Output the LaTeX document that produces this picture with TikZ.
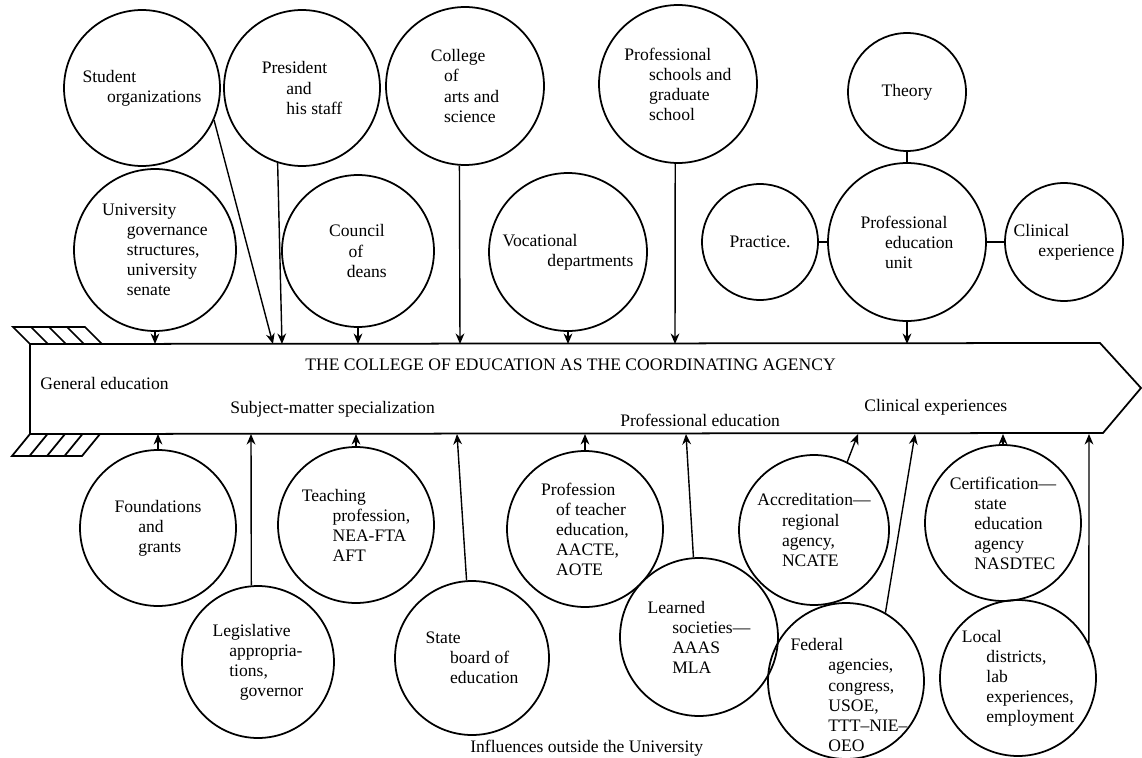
\documentclass[tikz,border=0pt]{standalone}
\usepackage{fontspec}
\setmainfont{Liberation Serif}
\usepackage{tikz}
\usetikzlibrary{arrows.meta}
\newcommand{\nudge}[1][1.4em]{\hspace*{#1}}

\begin{document}
\begin{tikzpicture}[x=0.02cm,y=-0.02cm]
\tikzset{agency/.style={circle,draw,line width=1pt,inner sep=0pt,minimum size=#1,align=left,font=\fontsize{10}{11.4}\selectfont}}
\tikzset{agency/.default=3.12cm}
\tikzset{feed/.style={line width=0.8pt,-{Stealth[length=6pt,width=5pt]}}}
\tikzset{tie/.style={line width=0.9pt}}
\tikzset{band/.style={font=\fontsize{10}{11.4}\selectfont,anchor=west,inner sep=0pt}}
\useasboundingbox (0,0) rectangle (1142,757);

% the arrow
\coordinate (tl) at (30,344);
\coordinate (tr) at (1100,343);
\coordinate (tip) at (1141,388);
\coordinate (br) at (1103,433);
\coordinate (bl) at (30,434);
\draw[line width=1pt] (tl) -- (tr) -- (tip) -- (br) -- (bl) -- cycle;
\draw[line width=1pt] (tl) -- (13,327) -- (85,327) -- (102,344);
\foreach \i in {1,2,3} \draw[line width=1pt] (13+18*\i,327) -- (30+18*\i,344);
\draw[line width=1pt] (bl) -- (12,456) -- (82,456) -- (100,434);
\foreach \i in {1,2,3} \draw[line width=1pt] (12+17.5*\i,456) -- (30+17.5*\i,434);

\node[band] (title) at (305,365) {THE COLLEGE OF EDUCATION AS THE COORDINATING AGENCY};
\node[band] (gened) at (40,383) {General education};
\node[band] (subj) at (230,409) {Subject-matter specialization};
\node[band] (profed) at (620,420) {Professional education};
\node[band] (clinexp) at (864,407) {Clinical experiences};
\node[band] (outside) at (470,748) {Influences outside the University};

% inside the University
\node[agency] (stud) at (142,88) {Student\\\nudge organizations};
\node[agency] (pres) at (302,88) {President\\\nudge and\\\nudge his staff};
\node[agency=3.16cm] (coll) at (465,86) {College\\\nudge[0.5em] of\\\nudge[0.5em] arts and\\\nudge[0.5em] science};
\node[agency=3.16cm] (prof) at (678,84) {Professional\\\nudge schools and\\\nudge graduate\\\nudge school};
\node[agency=2.36cm] (theory) at (907,92) {Theory};
\node[agency=3.24cm] (ugov) at (155,250) {University\\\nudge governance\\\nudge structures,\\\nudge university\\\nudge senate};
\node[agency=3.04cm] (council) at (358,251) {Council\\\nudge[0.85em] of\\\nudge[0.75em] deans};
\node[agency=3.16cm] (voc) at (568,252) {Vocational\\\nudge[2.3em] departments};
\node[agency=2.32cm] (practice) at (760,242) {Practice.};
\node[agency=3.16cm] (peu) at (907,242) {Professional\\\nudge education\\\nudge unit};
\node[agency=2.36cm] (clin) at (1064,242) {Clinical\\\nudge experience};

% outside the University
\node[agency] (found) at (158,528) {Foundations\\\nudge[1.1em] and\\\nudge[1.1em] grants};
\node[agency=3.04cm] (legis) at (258,662) {Legislative\\\nudge[0.7em] appropria-\\\nudge[0.7em] tions,\\\nudge[1.3em] governor};
\node[agency] (teach) at (356,525) {Teaching\\\nudge[1.5em] profession,\\\nudge[1.5em] NEA-FTA\\\nudge[1.5em] AFT};
\node[agency=3.08cm] (state) at (472,658) {State\\\nudge board of\\\nudge education};
\node[agency] (ptedu) at (585,529) {Profession\\\nudge[0.6em] of teacher\\\nudge[0.6em] education,\\\nudge[0.6em] AACTE,\\\nudge[0.6em] AOTE};
\node[agency=3.16cm] (learned) at (699,637) {Learned\\\nudge societies---\\\nudge AAAS\\\nudge MLA};
\node[agency=3cm] (accred) at (814,530) {Accreditation---\\\nudge regional\\\nudge agency,\\\nudge NCATE};
\node[agency] (federal) at (846,681) {};
\node[align=left,inner sep=0pt,font=\fontsize{10}{11.4}\selectfont] (federaltext) at (849,695) {Federal\\\nudge[1.9em] agencies,\\\nudge[1.9em] congress,\\\nudge[1.9em] USOE,\\\nudge[1.9em] TTT--NIE--\\\nudge[1.9em] OEO};
\node[agency] (cert) at (1003,523) {Certification---\\\nudge state\\\nudge education\\\nudge agency\\\nudge NASDTEC};
\node[agency] (local) at (1018,678) {Local\\\nudge districts,\\\nudge lab\\\nudge experiences,\\\nudge employment};

\coordinate (studin) at (273,344);
\coordinate (presin) at (282,344);
\coordinate (collin) at (460,344);
\coordinate (profin) at (675,344);
\coordinate (legisin) at (251,434);
\coordinate (statein) at (457,434);
\coordinate (learnedin) at (686,434);
\coordinate (accredin) at (858,434);
\coordinate (federalin) at (915,434);
\coordinate (localin) at (1089,434);

\draw[feed] (ugov) -- (ugov |- tl);
\draw[feed] (stud.-24) -- (studin);
\draw[feed] (pres.-108) -- (presin);
\draw[feed] (council) -- (council |- tl);
\draw[feed] (coll.-94) -- (collin);
\draw[feed] (voc) -- (voc |- tl);
\draw[feed] (prof.-92) -- (profin);
\draw[feed] (peu) -- (peu |- tl);
\draw[tie] (theory) -- (peu);
\draw[tie] (practice) -- (peu);
\draw[tie] (peu) -- (clin);

\draw[feed] (found) -- (found |- bl);
\draw[feed] (legis.95) -- (legisin);
\draw[feed] (teach) -- (teach |- bl);
\draw[feed] (state.94) -- (statein);
\draw[feed] (ptedu) -- (ptedu |- bl);
\draw[feed] (learned.94) -- (learnedin);
\draw[feed] (accred.64) -- (accredin);
\draw[feed] (federal.60) -- (federalin);
\draw[feed] (cert) -- (cert |- bl);
\draw[feed] (local.26) -- (localin);
\end{tikzpicture}
\end{document}
